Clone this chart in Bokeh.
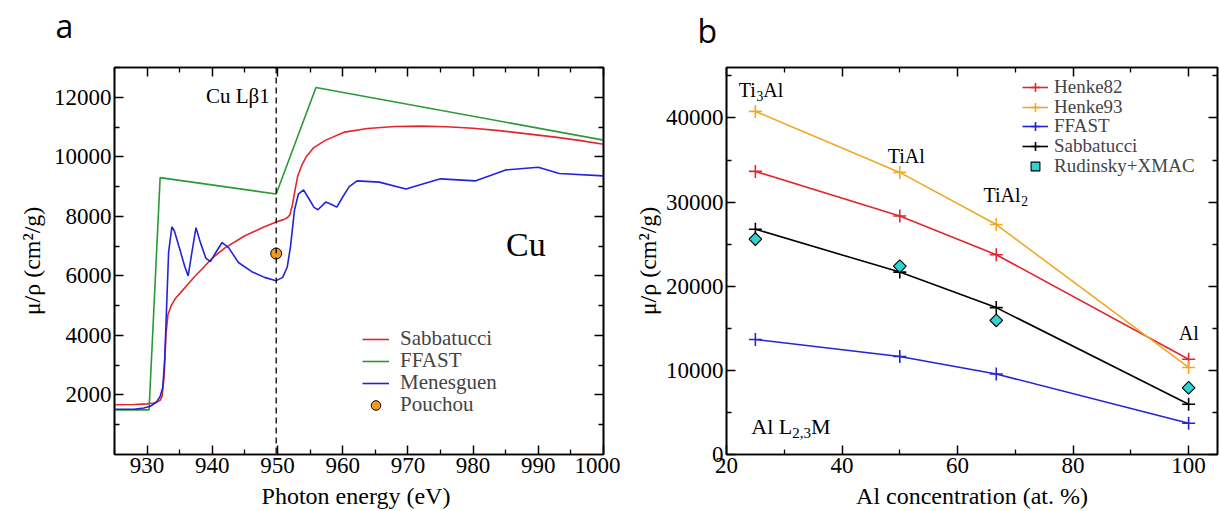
import math
from bokeh.plotting import figure
from bokeh.models import (LinearAxis, Range1d, FixedTicker, Legend, LegendItem, Span)
from bokeh.layouts import row, column
from bokeh.embed import file_html
from bokeh.resources import INLINE
from bokeh.core.properties import value

# ---------------- data: panel a (Cu) ----------------
sab_e = [925, 928, 930, 931, 931.5, 932, 932.3, 932.6, 932.9, 933.2, 933.7, 934.4, 935.3,
         936.2, 937.3, 938.5, 940, 942, 945, 948, 949.8, 950.9, 951.5, 951.9, 952.3,
         952.7, 953.1, 953.7, 954.4, 955.5, 957.4, 960.3, 963.8, 968, 972, 976, 980,
         984, 988, 992.6, 996, 1000]
sab_mu = [1670, 1680, 1700, 1730, 1760, 1820, 1950, 2600, 4050, 4700, 5000, 5260, 5480,
          5700, 5980, 6250, 6600, 6950, 7350, 7650, 7810, 7890, 7950, 8050, 8400,
          8900, 9350, 9700, 10000, 10300, 10560, 10830, 10950, 11020, 11030, 11010, 10960,
          10880, 10780, 10660, 10560, 10420]

ffast_e = [925, 930.3, 932.0, 949.8, 955.9, 1000]
ffast_mu = [1500, 1500, 9300, 8750, 12330, 10560]

men_e = [925, 928, 929.5, 930.5, 931.4, 932.0, 932.4, 932.7, 933.0, 933.3, 933.8, 934.2,
         935.0, 935.8, 936.3, 936.8, 937.5, 938.2, 939.0, 939.7, 940.3, 941.5, 942.5,
         944, 946, 948, 949.8, 950.8, 951.5, 952.0, 952.6, 953.2, 954.0, 954.8, 955.6,
         956.2, 957.4, 958.3, 959.1, 960.0, 961.0, 962.2, 965.6, 969.7, 975.0, 980.3,
         985.0, 990.0, 993.2, 1000]
men_mu = [1520, 1520, 1560, 1620, 1750, 1950, 2250, 3200, 5000, 6800, 7650, 7500,
          6900, 6300, 6000, 6700, 7620, 7100, 6600, 6480, 6700, 7120, 6950,
          6450, 6150, 5950, 5840, 5950, 6300, 7000, 8200, 8750, 8890, 8600, 8300,
          8220, 8480, 8400, 8310, 8650, 9000, 9190, 9150, 8920, 9260, 9190,
          9560, 9650, 9440, 9360]

pouchou_e = [949.8]
pouchou_mu = [6750]
cu_lb1 = 949.8

# ---------------- data: panel b (Al L2,3M) ----------------
conc = [25, 50, 66.7, 100]
henke82 = [33650, 28350, 23750, 11330]
henke93 = [40780, 33530, 27330, 10350]
ffast_b = [13670, 11640, 9570, 3710]
sabb_b = [26780, 21680, 17460, 5980]
rudinsky = [25600, 22380, 15940, 7930]

a_xticks = [930, 940, 950, 960, 970, 980, 990, 1000]
a_xminor = [925, 935, 945, 955, 965, 975, 985, 995]
a_yticks = [2000, 4000, 6000, 8000, 10000, 12000]
a_yminor = [1000, 3000, 5000, 7000, 9000, 11000, 13000]
b_xticks = [20, 40, 60, 80, 100]
b_xminor = [30, 50, 70, 90]
b_yticks = [0, 10000, 20000, 30000, 40000]
b_yminor = [5000, 15000, 25000, 35000, 45000]

SERIF = "Liberation Serif"
SANS = "Open Sans"
RED = "#e3262e"
GREEN = "#2a9a35"
BLUE = "#2323d8"
ORANGE = "#f0a825"
CYAN = "#2ed3d3"
PT_ORANGE = "#f29a18"

HEADER_H = 48
TW = {'T': .611, 'i': .278, 'A': .722, 'l': .278, ' ': .25, 'L': .611, 'M': .889,
      '2': .5, '3': .5, ',': .25}


def style_axis(ax, ticks, minor, labels=True):
    ax.ticker = FixedTicker(ticks=ticks, minor_ticks=minor)
    ax.major_tick_in = 9
    ax.major_tick_out = 0
    ax.minor_tick_in = 5
    ax.minor_tick_out = 0
    ax.axis_line_width = 1.6
    ax.axis_line_color = "black"
    ax.major_tick_line_width = 1.5
    ax.minor_tick_line_width = 1.3
    ax.major_tick_line_color = "black"
    ax.minor_tick_line_color = "black"
    ax.major_label_text_font = SERIF
    ax.major_label_text_color = "black"
    ax.axis_label_text_font = SERIF
    ax.axis_label_text_font_style = "normal"
    ax.axis_label_text_color = "black"
    ax.axis_label_text_font_size = "24px"
    if labels:
        ax.major_label_text_font_size = "23px"
        ax.major_label_standoff = 3
    else:
        ax.major_label_overrides = {t: "" for t in ticks}
        ax.major_label_text_font_size = "1px"
        ax.major_label_standoff = 0


def make_fig(width, xr, yr, bl, br, bt, bb, xt, xm, yt, ym):
    p = figure(width=width, height=511 - HEADER_H, x_range=Range1d(*xr),
               y_range=Range1d(*yr), output_backend="svg", toolbar_location=None,
               min_border_left=bl, min_border_right=br, min_border_top=bt,
               min_border_bottom=bb)
    p.xgrid.visible = False
    p.ygrid.visible = False
    p.outline_line_color = "black"
    p.outline_line_width = 1.6
    p.background_fill_color = "white"
    p.border_fill_color = "white"
    bottom = p.below[0]
    left = p.left[0]
    style_axis(bottom, xt, xm)
    style_axis(left, yt, ym)
    top = LinearAxis()
    style_axis(top, xt, xm, labels=False)
    p.add_layout(top, "above")
    right = LinearAxis()
    style_axis(right, yt, ym, labels=False)
    p.add_layout(right, "right")
    return p, bottom, left


def rich_text(p, x, y, pieces, size):
    off = 0.0
    for txt, sub in pieces:
        sz = size * 0.68 if sub else size
        p.text(x=[x], y=[y], text=[txt], x_offset=off, y_offset=(6 if sub else 0),
               text_font=value(SERIF), text_font_size=f"{sz:.1f}px",
               text_baseline="middle", text_align="left", text_color="black")
        off += sum(TW.get(c, .5) for c in txt) * sz


def add_legend_rows(p, entries, x, ys, h, glyph_w, standoff, font_size):
    # one single-row legend per entry, so the row pitch can match the reference
    for (label, rends), y in zip(entries, ys):
        lg = Legend(items=[LegendItem(label=label, renderers=rends)],
                    location=(x, y), padding=0, margin=0, spacing=0,
                    glyph_width=glyph_w, glyph_height=h, label_height=h,
                    label_standoff=standoff, label_text_font=SERIF,
                    label_text_font_size=font_size, background_fill_alpha=0,
                    border_line_color=None)
        p.add_layout(lg)


# ---------------- header with panel tags ----------------
hdr = figure(width=1219, height=HEADER_H, x_range=Range1d(0, 1219),
             y_range=Range1d(0, HEADER_H), output_backend="svg", toolbar_location=None,
             x_axis_location=None, y_axis_location=None, title_location=None,
             min_border=0)
hdr.xgrid.visible = False
hdr.ygrid.visible = False
hdr.outline_line_color = None
hdr.text(x=[55, 697], y=[HEADER_H - 25, HEADER_H - 30], text=["a", "b"],
         text_font=value(SANS), text_font_size="32px", text_align="left",
         text_baseline="middle", text_color="black")

# ---------------- panel a ----------------
pa, pa_x, pa_y = make_fig(620, (925, 1000), (0, 13000), 114, 17, 66 - HEADER_H, 53,
                          a_xticks, a_xminor, a_yticks, a_yminor)
pa_x.axis_label = "Photon energy  (eV)"
pa_x.axis_label_standoff = 7
pa_y.axis_label = "μ/ρ (cm²/g)"
pa_y.axis_label_standoff = 6

pa.add_layout(Span(location=cu_lb1, dimension="height", line_color="black",
                   line_dash="6 4", line_width=1.3))
r1 = pa.line(sab_e, sab_mu, line_color=RED, line_width=1.6)
r2 = pa.line(ffast_e, ffast_mu, line_color=GREEN, line_width=1.6)
r3 = pa.line(men_e, men_mu, line_color=BLUE, line_width=1.6)
r4 = pa.scatter(pouchou_e, pouchou_mu, marker="circle", size=11, fill_color=PT_ORANGE,
                line_color="black", line_width=1)

pa.text(x=[948.8], y=[12030], text=["Cu Lβ1"], text_font=value(SERIF),
        text_font_size="21px", text_align="right", text_baseline="middle")
pa.text(x=[988.1], y=[7056], text=["Cu"], text_font=value(SERIF),
        text_font_size="34px", text_align="center", text_baseline="middle")

add_legend_rows(pa, [("Sabbatucci", [r1]), ("FFAST", [r2]), ("Menesguen", [r3]),
                     ("Pouchou", [r4])],
                248, [103, 81, 59, 37], 24, 27, 11, "21px")

# ---------------- panel b ----------------
pb, pb_x, pb_y = make_fig(599, (20, 105), (0, 46000), 106, 2, 67 - HEADER_H, 53,
                          b_xticks, b_xminor, b_yticks, b_yminor)
pb_x.axis_label = "Al concentration (at. %)"
pb_x.axis_label_standoff = 7
pb_y.axis_label = "μ/ρ (cm²/g)"
pb_y.axis_label_standoff = 2

series = [("Henke82", henke82, RED), ("Henke93", henke93, ORANGE),
          ("FFAST", ffast_b, BLUE), ("Sabbatucci", sabb_b, "black")]
entries = []
for name, vals, col in series:
    rl = pb.line(conc, vals, line_color=col, line_width=1.6)
    rs = pb.scatter(conc, vals, marker="cross", size=13, line_color=col, line_width=1.6)
    entries.append((name, [rl, rs]))
rr = pb.scatter(conc, rudinsky, marker="square", angle=math.pi / 4, size=9,
                fill_color=CYAN, line_color="black", line_width=1.1)
entries.append(("Rudinsky+XMAC", [rr]))

add_legend_rows(pb, entries, 296, [356, 336, 317, 297, 277], 22, 26, 6, "19px")

rich_text(pb, 22.1, 43300, [("Ti", False), ("3", True), ("Al", False)], 20)
rich_text(pb, 47.9, 35500, [("TiAl", False)], 20)
rich_text(pb, 64.5, 30800, [("TiAl", False), ("2", True)], 20)
rich_text(pb, 98.3, 14450, [("Al", False)], 20)
rich_text(pb, 24.3, 3320, [("Al L", False), ("2,3", True), ("M", False)], 22)

layout = column(hdr, row(pa, pb))
open("out.html", "w").write(file_html(layout, INLINE))
